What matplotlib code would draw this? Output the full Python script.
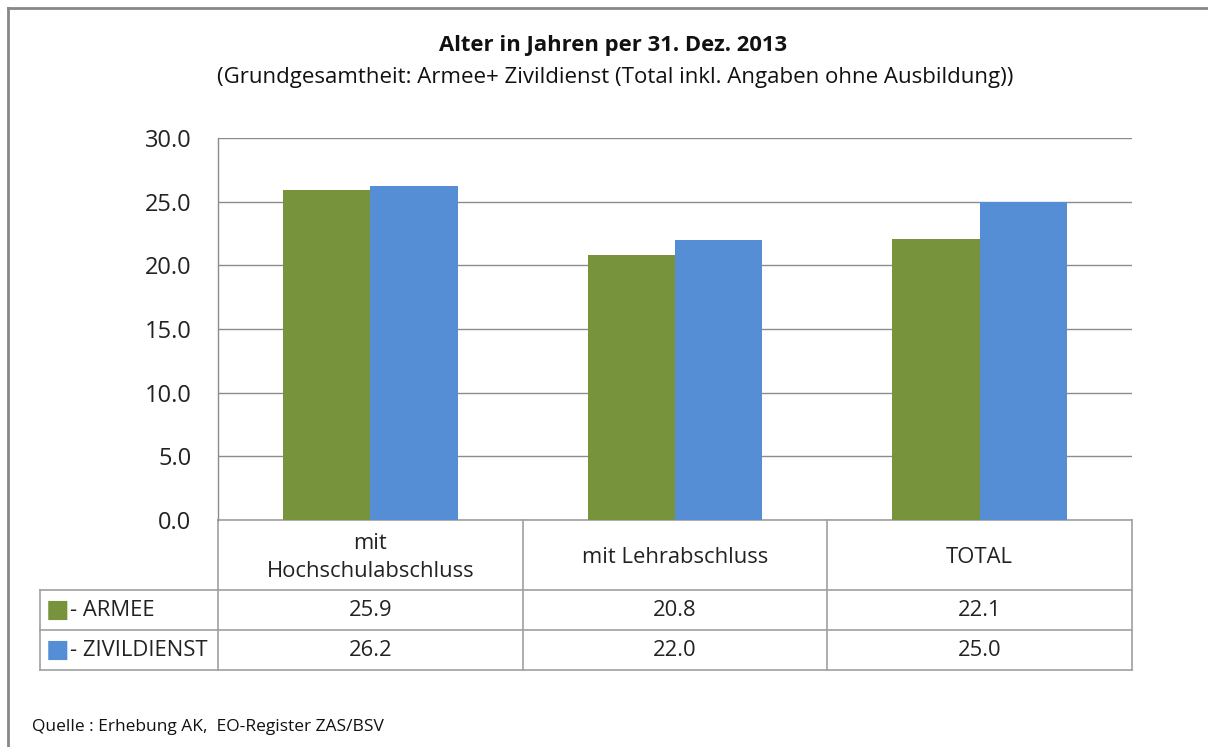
import matplotlib
matplotlib.use("Agg")
import matplotlib.pyplot as plt
import numpy as np

# data
categories = ["mit\nHochschulabschluss", "mit Lehrabschluss", "TOTAL"]
series_names = ["- ARMEE", "- ZIVILDIENST"]
armee = [25.9, 20.8, 22.1]
zivildienst = [26.2, 22.0, 25.0]
y_ticks = [0, 5, 10, 15, 20, 25, 30]

colors = ["#77933C", "#558ED5"]
grid_col = "#8C8C8C"
table_col = "#A0A0A0"
txt_col = "#222222"

plt.rcParams["font.family"] = ["Open Sans", "DejaVu Sans"]

W, H = 1208, 747
fig = plt.figure(figsize=(W / 100, H / 100), dpi=100)

# plot area in pixel coordinates of the reference
left, right, top, bottom = 218, 1132, 138, 520
ax = fig.add_axes([left / W, 1 - bottom / H, (right - left) / W, (bottom - top) / H])

x = np.arange(len(categories))
bw = 0.287
ax.bar(x - bw / 2, armee, bw, color=colors[0], zorder=3)
ax.bar(x + bw / 2, zivildienst, bw, color=colors[1], zorder=3)

ax.set_xlim(-0.5, len(categories) - 0.5)
ax.set_ylim(0, 30)
ax.set_yticks(y_ticks)
ax.set_yticklabels([f"{v:.1f}" for v in y_ticks], fontsize=17, color=txt_col)
ax.tick_params(axis="y", length=0, pad=19)
ax.set_xticks([])
ax.yaxis.grid(True, color=grid_col, linewidth=1.0, zorder=0)
for s in ["top", "right", "bottom"]:
    ax.spines[s].set_visible(False)
ax.spines["left"].set_color(grid_col)
ax.spines["left"].set_linewidth(1.0)

# data table underneath
ph = bottom - top
hdr = 70 / ph
row = 40 / ph
leg_left = (40 - left) / (right - left)
trans = ax.get_xaxis_transform()  # x in data, y in axes
tkw = dict(color=table_col, linewidth=1.2, clip_on=False)

y0 = 0.0
y1 = -hdr
y2 = -hdr - row
y3 = -hdr - 2 * row
xl, xr = -0.5, len(categories) - 0.5
ax.plot([xl, xr], [y0, y0], transform=trans, **tkw)
for yy in (y1, y2, y3):
    ax.plot([leg_left, 1], [yy, yy], transform=ax.transAxes, **tkw)
for b in np.arange(len(categories) + 1) - 0.5:
    ax.plot([b, b], [y0, y3], transform=trans, **tkw)
ax.plot([leg_left, leg_left], [y1, y3], transform=ax.transAxes, **tkw)

fs = 15.8
for i, c in enumerate(categories):
    ax.text(i, (y0 + y1) / 2 - 0.006, c, transform=trans, ha="center", va="center",
            fontsize=fs, color=txt_col, linespacing=1.45)
    ax.text(i, (y1 + y2) / 2, f"{armee[i]:.1f}", transform=trans,
            ha="center", va="center", fontsize=fs, color=txt_col)
    ax.text(i, (y2 + y3) / 2, f"{zivildienst[i]:.1f}", transform=trans,
            ha="center", va="center", fontsize=fs, color=txt_col)

for k, (name, col) in enumerate(zip(series_names, colors)):
    yc = (y1 + y2) / 2 if k == 0 else (y2 + y3) / 2
    ax.text(leg_left + 6 / (right - left), yc, "\u25A0", transform=ax.transAxes,
            ha="left", va="center", fontsize=18, color=col, family="DejaVu Sans")
    ax.text(leg_left + 30 / (right - left), yc, name, transform=ax.transAxes,
            ha="left", va="center", fontsize=fs, color=txt_col)

# titles and source
fig.text(613 / W, 1 - 45 / H, "Alter in Jahren per 31. Dez. 2013", ha="center",
         va="center", fontsize=15.8, fontweight="bold", color="#111111")
fig.text(615 / W, 1 - 77 / H,
         "(Grundgesamtheit: Armee+ Zivildienst (Total inkl. Angaben ohne Ausbildung))",
         ha="center", va="center", fontsize=16, color="#111111")
fig.text(32 / W, 1 - 727 / H, "Quelle : Erhebung AK,  EO-Register ZAS/BSV",
         ha="left", va="center", fontsize=12.5, color="#111111")

# outer frame (left and top edges)
fig.add_artist(plt.Line2D([8 / W, 8 / W], [0, 1 - 8 / H], transform=fig.transFigure,
                          color="#888888", linewidth=2))
fig.add_artist(plt.Line2D([8 / W, 1], [1 - 8 / H, 1 - 8 / H], transform=fig.transFigure,
                          color="#888888", linewidth=2))

fig.savefig("out.png", dpi=100)
